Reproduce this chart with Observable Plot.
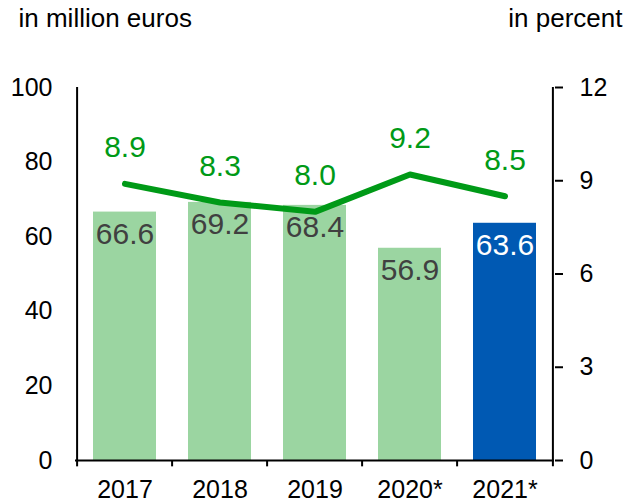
<!DOCTYPE html>
<html>
<head>
<meta charset="utf-8">
<script src="https://cdn.jsdelivr.net/npm/d3@7"></script>
<script src="https://cdn.jsdelivr.net/npm/@observablehq/plot@0.6"></script>
<style>
  body { margin: 0; background: #fff; }
</style>
</head>
<body>
<div id="chart"></div>
<script>
const years = ["2017", "2018", "2019", "2020*", "2021*"];
const revenue = [66.6, 69.2, 68.4, 56.9, 63.6];
const marginPct = [8.9, 8.3, 8.0, 9.2, 8.5];
const leftTicks = [0, 20, 40, 60, 80, 100];
const rightTicks = [0, 3, 6, 9, 12];
const leftTitle = "in million euros";
const rightTitle = "in percent";

const rows = years.map((y, i) => ({year: y, revenue: revenue[i], pct: marginPct[i], last: i === years.length - 1}));

const W = 628, H = 503;
const mL = 75, mR = 74, mT = 87, mB = 43;
const step = (W - mL - mR) / years.length;
const k = 100 / 12;

const chart = Plot.plot({
  width: W,
  height: H,
  marginLeft: mL,
  marginRight: mR,
  marginTop: mT,
  marginBottom: mB,
  style: {fontFamily: "'Liberation Sans', Arial, sans-serif", fontSize: "25px", color: "#000", background: "#fff", overflow: "visible"},
  x: {type: "band", domain: years, padding: 0},
  y: {domain: [0, 100]},
  marks: [
    Plot.barY(rows.filter(d => !d.last), {x: "year", y: "revenue", fill: "#9bd5a1", insetLeft: 16, insetRight: 16}),
    Plot.barY(rows.filter(d => d.last), {x: "year", y: "revenue", fill: "#0059b3", insetLeft: 16, insetRight: 16}),
    Plot.text(rows.filter(d => !d.last), {x: "year", y: "revenue", text: d => d.revenue.toFixed(1), dy: 22, fill: "#404040", fontSize: 30}),
    Plot.text(rows.filter(d => d.last), {x: "year", y: "revenue", text: d => d.revenue.toFixed(1), dy: 22, fill: "#ffffff", fontSize: 30}),
    Plot.line(rows, {x: "year", y: d => d.pct * k, stroke: "#009a17", strokeWidth: 6, strokeLinecap: "round", strokeLinejoin: "round"}),
    Plot.text(rows, {x: "year", y: d => d.pct * k, text: d => d.pct.toFixed(1), dy: -36, fill: "#009a17", fontSize: 30}),
    Plot.ruleY([0], {stroke: "#000", strokeWidth: 2}),
    Plot.ruleX(years, {x: d => d, dx: -step / 2, y1: -1.7, y2: 0, stroke: "#000", strokeWidth: 2}),
    Plot.ruleX([years[0]], {x: d => d, dx: -step / 2, y1: 0, y2: 100, stroke: "#000", strokeWidth: 2}),
    Plot.ruleX([years[years.length - 1]], {x: d => d, dx: step / 2, y1: -1.7, y2: 100, stroke: "#000", strokeWidth: 2}),
    Plot.axisX({tickSize: 0, tickPadding: 20, label: null}),
    Plot.axisY({ticks: leftTicks, tickSize: 0, tickPadding: 23, label: null}),
    Plot.axisY({anchor: "right", ticks: rightTicks.map(v => v * k), tickFormat: v => String(Math.round(v / k)), tickSize: 8, tickPadding: 17, strokeWidth: 2, label: null}),
    Plot.text([leftTitle], {frameAnchor: "top-left", dx: 18 - mL, dy: -69, lineAnchor: "middle", textAnchor: "start", fontSize: 26, fill: "#000"}),
    Plot.text([rightTitle], {frameAnchor: "top-right", dx: 622 - (W - mR), dy: -69, lineAnchor: "middle", textAnchor: "end", fontSize: 26, fill: "#000"})
  ]
});
document.getElementById("chart").appendChild(chart);
</script>
</body>
</html>
